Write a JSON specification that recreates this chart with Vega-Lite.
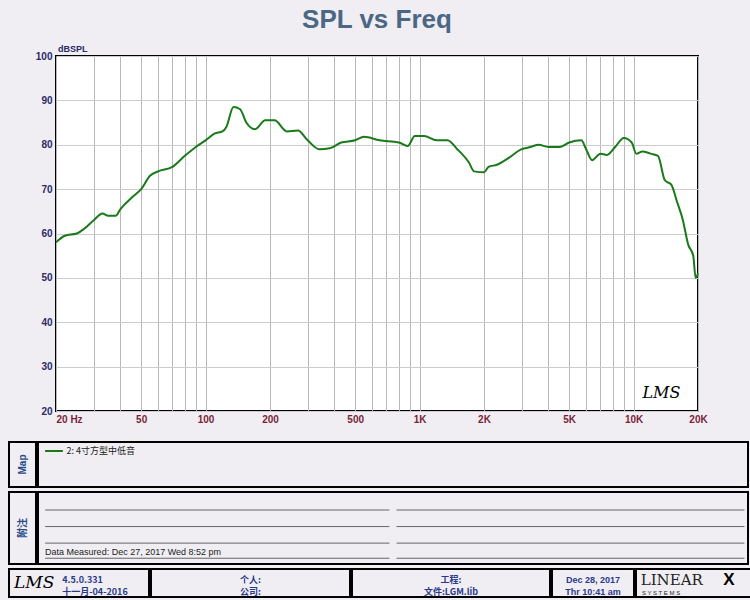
{
"$schema":"https://vega.github.io/schema/vega-lite/v6.json",
"background":"#f0eef2",
"padding":{"left":8,"top":6,"right":5,"bottom":5},
"config":{"font":"Liberation Sans","view":{"stroke":"#000","strokeWidth":2},"concat":{"spacing":0},
"axisY":{"values":[20,22,24,26,28,30,32,34,36,38,40,42,44,46,48,50,52,54,56,58,60,62,64,66,68,70,72,74,76,78,80,82,84,86,88,90,92,94,96,98,100]}},
"data":{"values":[{}]},
"spacing":16,
"vconcat":[
{"hconcat":[
{"width":25,"height":355,"view":{"stroke":null},"mark":{"type":"text","text":""},"encoding":{"x":{"datum":0.5,"scale":{"domain":[0,1]},"axis":null},"y":{"datum":0.5,"scale":{"domain":[0,1]},"axis":null}}},
{
"title":{"text":"SPL vs Freq","fontSize":26,"fontWeight":"bold","color":"#4a6886","offset":12},
"width":642,"height":355,
"view":{"fill":"#ffffff"},
"layer":[
{"data":{"values":[
{"f":20,"db":58},{"f":22,"db":59.5},{"f":25,"db":60},{"f":27,"db":61},{"f":30,"db":63},{"f":33,"db":64.5},{"f":35,"db":64},{"f":38,"db":64},{"f":40,"db":65.5},{"f":45,"db":68},{"f":50,"db":70},{"f":55,"db":73},{"f":60,"db":74},{"f":70,"db":75},{"f":80,"db":77.5},{"f":90,"db":79.5},{"f":100,"db":81},{"f":110,"db":82.5},{"f":120,"db":83},{"f":125,"db":84},{"f":135,"db":88.5},{"f":145,"db":88},{"f":155,"db":85},{"f":170,"db":83.5},{"f":190,"db":85.5},{"f":210,"db":85.5},{"f":240,"db":83},{"f":270,"db":83.2},{"f":300,"db":81},{"f":340,"db":79},{"f":380,"db":79.2},{"f":430,"db":80.5},{"f":500,"db":81},{"f":550,"db":81.8},{"f":650,"db":81},{"f":800,"db":80.5},{"f":880,"db":79.7},{"f":950,"db":82},{"f":1050,"db":82},{"f":1200,"db":81},{"f":1350,"db":81},{"f":1500,"db":79},{"f":1700,"db":76},{"f":1800,"db":74},{"f":2000,"db":73.8},{"f":2100,"db":75},{"f":2300,"db":75.5},{"f":2600,"db":77},{"f":3000,"db":79},{"f":3300,"db":79.5},{"f":3600,"db":80},{"f":4000,"db":79.5},{"f":4500,"db":79.5},{"f":5000,"db":80.5},{"f":5700,"db":81},{"f":6000,"db":79},{"f":6400,"db":76.5},{"f":7000,"db":78},{"f":7500,"db":77.7},{"f":8200,"db":79.5},{"f":9000,"db":81.5},{"f":9800,"db":80.5},{"f":10300,"db":78},{"f":11000,"db":78.5},{"f":12000,"db":78},{"f":13000,"db":77.5},{"f":14000,"db":72},{"f":15000,"db":71},{"f":16000,"db":67},{"f":17000,"db":63},{"f":18000,"db":57.5},{"f":19000,"db":55},{"f":19500,"db":50},{"f":20000,"db":51}
]},
"mark":{"type":"line","color":"#1a7a1a","strokeWidth":2,"interpolate":"monotone"},
"encoding":{
"x":{"field":"f","type":"quantitative","scale":{"type":"log","domain":[20,20000],"nice":false},
"axis":{"title":null,"values":[20,30,40,50,60,70,80,90,100,200,300,400,500,600,700,800,900,1000,2000,3000,4000,5000,6000,7000,8000,9000,10000,20000],
"labelExpr":"datum.value==20?'20  Hz':datum.value==50?'50':datum.value==100?'100':datum.value==200?'200':datum.value==500?'500':datum.value==1000?'1K':datum.value==2000?'2K':datum.value==5000?'5K':datum.value==10000?'10K':datum.value==20000?'20K':''",
"labelAlign":{"expr":"datum.value==20?'left':'center'"},
"labelColor":"#7a1f3a","labelFontWeight":"bold","labelFontSize":10,"gridColor":"#b8b8b8","ticks":false,"domain":false,"labelFlush":false,"labelOverlap":false,"labelPadding":3}},
"y":{"field":"db","type":"quantitative","scale":{"domain":[20,100],"nice":false,"zero":false},
"axis":{"title":null,
"labelExpr":"datum.value%10==0?''+datum.value:''","labelColor":"#2a2a6a","labelFontWeight":"bold","labelFontSize":10,"gridColor":"#cccccc","ticks":false,"domain":false,"labelOverlap":false,"minExtent":0,"maxExtent":0,"labelPadding":4}}}},
{"mark":{"type":"text","text":"LMS","font":"DejaVu Serif","fontStyle":"italic","fontSize":16,"color":"#000"},"encoding":{"x":{"datum":13500},"y":{"datum":24}}},
{"mark":{"type":"text","text":"dBSPL","fontSize":9,"fontWeight":"bold","color":"#2a2a6a","dy":-7,"dx":2,"align":"left"},"encoding":{"x":{"datum":20},"y":{"datum":100}}}
]
}
]},
{
"spacing":3,
"vconcat":[
{"hconcat":[
{"width":27,"height":45,"mark":{"type":"text","text":"Map","angle":270,"fontSize":10,"fontWeight":"bold","color":"#2a4a8a"},"encoding":{"x":{"datum":0.5,"scale":{"domain":[0,1]},"axis":null},"y":{"datum":0.5,"scale":{"domain":[0,1]},"axis":null}}},
{"width":710,"height":45,"layer":[
{"mark":{"type":"rule","color":"#1a7a1a","strokeWidth":2},"encoding":{"x":{"datum":0.01,"scale":{"domain":[0,1]},"axis":null},"x2":{"datum":0.035},"y":{"datum":0.8,"scale":{"domain":[0,1]},"axis":null}}},
{"mark":{"type":"text","text":"2: 4寸方型中低音","fontSize":9,"align":"left","color":"#222","font":"Noto Sans CJK SC"},"encoding":{"x":{"datum":0.04},"y":{"datum":0.8}}}
]}
]},
{"hconcat":[
{"width":27,"height":72,"mark":{"type":"text","text":"附注","angle":270,"fontSize":10,"fontWeight":"bold","color":"#2a4a8a","font":"Noto Sans CJK SC"},"encoding":{"x":{"datum":0.5,"scale":{"domain":[0,1]},"axis":null},"y":{"datum":0.5,"scale":{"domain":[0,1]},"axis":null}}},
{"width":710,"height":72,"layer":[
{"mark":{"type":"rule","color":"#666"},"encoding":{"x":{"datum":0.01,"scale":{"domain":[0,1]},"axis":null},"x2":{"datum":0.495},"y":{"datum":0.75,"scale":{"domain":[0,1]},"axis":null}}},
{"mark":{"type":"rule","color":"#666"},"encoding":{"x":{"datum":0.01},"x2":{"datum":0.495},"y":{"datum":0.52}}},
{"mark":{"type":"rule","color":"#666"},"encoding":{"x":{"datum":0.01},"x2":{"datum":0.495},"y":{"datum":0.29}}},
{"mark":{"type":"rule","color":"#666"},"encoding":{"x":{"datum":0.01},"x2":{"datum":0.495},"y":{"datum":0.08}}},
{"mark":{"type":"rule","color":"#666"},"encoding":{"x":{"datum":0.505},"x2":{"datum":0.995},"y":{"datum":0.75}}},
{"mark":{"type":"rule","color":"#666"},"encoding":{"x":{"datum":0.505},"x2":{"datum":0.995},"y":{"datum":0.52}}},
{"mark":{"type":"rule","color":"#666"},"encoding":{"x":{"datum":0.505},"x2":{"datum":0.995},"y":{"datum":0.29}}},
{"mark":{"type":"rule","color":"#666"},"encoding":{"x":{"datum":0.505},"x2":{"datum":0.995},"y":{"datum":0.08}}},
{"mark":{"type":"text","text":"Data Measured: Dec 27, 2017  Wed  8:52 pm","fontSize":9,"align":"left","baseline":"bottom","color":"#222","dy":-1},"encoding":{"x":{"datum":0.01},"y":{"datum":0.08}}}
]}
]},
{"hconcat":[
{"width":140,"height":28,"layer":[
{"mark":{"type":"text","text":"LMS","font":"DejaVu Serif","fontStyle":"italic","fontSize":17,"color":"#000"},"encoding":{"x":{"datum":0.18,"scale":{"domain":[0,1]},"axis":null},"y":{"datum":0.5,"scale":{"domain":[0,1]},"axis":null}}},
{"mark":{"type":"text","text":["4.5.0.331","十一月-04-2016"],"fontSize":9,"fontWeight":"bold","align":"left","color":"#2a3a8a","font":"Noto Sans CJK SC","lineHeight":12},"encoding":{"x":{"datum":0.38},"y":{"datum":0.62}}}
]},
{"width":199,"height":28,"mark":{"type":"text","text":["个人:","公司:"],"fontSize":9,"fontWeight":"bold","color":"#2a3a8a","font":"Noto Sans CJK SC","lineHeight":12},"encoding":{"x":{"datum":0.5,"scale":{"domain":[0,1]},"axis":null},"y":{"datum":0.62,"scale":{"domain":[0,1]},"axis":null}}},
{"width":198,"height":28,"mark":{"type":"text","text":["工程:","文件:LGM.lib"],"fontSize":9,"fontWeight":"bold","color":"#2a3a8a","font":"Noto Sans CJK SC","lineHeight":12},"encoding":{"x":{"datum":0.5,"scale":{"domain":[0,1]},"axis":null},"y":{"datum":0.62,"scale":{"domain":[0,1]},"axis":null}}},
{"width":82,"height":28,"mark":{"type":"text","text":["Dec 28, 2017","Thr 10:41 am"],"fontSize":9,"fontWeight":"bold","color":"#2a3a8a","lineHeight":12},"encoding":{"x":{"datum":0.5,"scale":{"domain":[0,1]},"axis":null},"y":{"datum":0.62,"scale":{"domain":[0,1]},"axis":null}}},
{"width":118,"height":28,"layer":[
{"mark":{"type":"text","text":"LINEAR","font":"DejaVu Serif","fontSize":15,"color":"#222","align":"left"},"encoding":{"x":{"datum":0.04,"scale":{"domain":[0,1]},"axis":null},"y":{"datum":0.62,"scale":{"domain":[0,1]},"axis":null}}},
{"mark":{"type":"text","text":"X","fontSize":17,"fontWeight":"bold","color":"#000","align":"left"},"encoding":{"x":{"datum":0.74},"y":{"datum":0.62}}},
{"mark":{"type":"text","text":"S  Y  S  T  E  M  S","fontSize":6,"color":"#222","align":"left"},"encoding":{"x":{"datum":0.05},"y":{"datum":0.15}}}
]}
]}
]
}
]
}
